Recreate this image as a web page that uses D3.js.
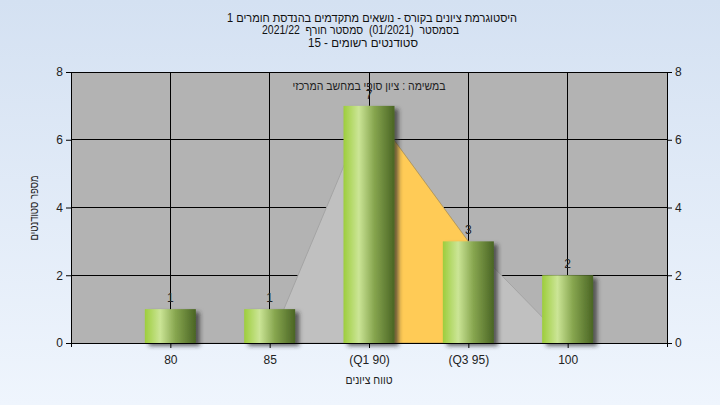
<!DOCTYPE html>
<html>
<head>
<meta charset="utf-8">
<script src="https://cdn.jsdelivr.net/npm/d3@7"></script>
<style>
  html, body { margin: 0; padding: 0; }
  body { width: 720px; height: 405px; overflow: hidden; }
  text { font-family: "Liberation Sans", Arial, sans-serif; }
</style>
</head>
<body>
<svg id="chart" width="720" height="405"></svg>
<script>
// ---- data ----
const categories = [80, 85, 90, 95, 100];
const tickLabels = ["80", "85", "(Q1 90)", "(Q3 95)", "100"];
const counts = [1, 1, 7, 3, 2];
const curveValues = [0, 0, 7, 3, 0];
const q1Index = 2;
const q3Index = 3;
const yTicks = [0, 2, 4, 6, 8];
const titleLines = [
  "היסטוגרמת ציונים בקורס - נושאים מתקדמים בהנדסת חומרים 1",
  "בסמסטר  (01/2021)  סמסטר חורף  2021/22",
  "סטודנטים רשומים - 15"
];
const subtitle = "במשימה : ציון סופי במחשב המרכזי";
const xTitle = "טווח ציונים";
const yTitle = "מספר סטודנטים";

// ---- layout ----
const W = 720, H = 405;
const pL = 71, pR = 667, pT = 72, pB = 343;
const titleLayout = [{cx: 372, by: 21.5, w: 290}, {cx: 360.5, by: 34, w: 197}, {cx: 363, by: 47, w: 110}];
const svg = d3.select("#chart");
const defs = svg.append("defs");

const bg = defs.append("linearGradient").attr("id", "bg").attr("x1", 0).attr("y1", 0).attr("x2", 0).attr("y2", 1);
bg.append("stop").attr("offset", "0%").attr("stop-color", "#d4e1f2");
bg.append("stop").attr("offset", "100%").attr("stop-color", "#eff5fd");

const barG = defs.append("linearGradient").attr("id", "barGrad").attr("x1", 0).attr("y1", 0).attr("x2", 1).attr("y2", 0);
[["0%", "#9dcd3c"], ["30%", "#cbe596"], ["60%", "#87a64f"], ["100%", "#4a6524"]].forEach(([o, c]) =>
  barG.append("stop").attr("offset", o).attr("stop-color", c));

const sh = defs.append("filter").attr("id", "shadow").attr("x", "-20%").attr("y", "-20%").attr("width", "160%").attr("height", "160%");
sh.append("feDropShadow").attr("dx", 4).attr("dy", 3).attr("stdDeviation", 2)
  .attr("flood-color", "#2a2a2a").attr("flood-opacity", 0.7);

svg.append("rect").attr("width", W).attr("height", H).attr("fill", "url(#bg)");

const x = d3.scaleLinear().domain([75, 105]).range([pL, pR]);
const y = d3.scaleLinear().domain([0, 8]).range([pB, pT]);

// plot background
svg.append("rect").attr("x", pL).attr("y", pT).attr("width", pR - pL).attr("height", pB - pT)
  .attr("fill", "#b3b3b3");

// grid lines
svg.append("g").selectAll("line").data(yTicks).join("line")
  .attr("x1", pL).attr("x2", pR).attr("y1", d => y(d)).attr("y2", d => y(d))
  .attr("stroke", "#000").attr("stroke-width", 1).attr("shape-rendering", "crispEdges");
svg.append("g").selectAll("line").data(categories).join("line")
  .attr("x1", d => x(d)).attr("x2", d => x(d)).attr("y1", pT).attr("y2", pB)
  .attr("stroke", "#000").attr("stroke-width", 1).attr("shape-rendering", "crispEdges");

// distribution area
const pts = categories.map((c, i) => [c, curveValues[i]]);
const area = d3.area().x(d => x(d[0])).y0(y(0)).y1(d => y(d[1]));
svg.append("path").datum(pts).attr("d", area)
  .attr("fill", "#c0c0c0").attr("stroke", "#a4a4a4").attr("stroke-width", 1);
svg.append("path").datum(pts.slice(q1Index, q3Index + 1)).attr("d", area)
  .attr("fill", "#ffcb56").attr("stroke", "#b39450").attr("stroke-width", 0.8);

// bars
const bw = 51;
svg.append("g").selectAll("rect").data(categories).join("rect")
  .attr("x", d => x(d) - bw / 2).attr("width", bw)
  .attr("y", (d, i) => y(counts[i])).attr("height", (d, i) => y(0) - y(counts[i]))
  .attr("fill", "url(#barGrad)").attr("filter", "url(#shadow)");

// value labels
svg.append("g").selectAll("text").data(categories).join("text")
  .attr("x", d => x(d)).attr("y", (d, i) => y(counts[i]) - 7)
  .attr("text-anchor", "middle").attr("font-size", 12).attr("fill", "#222")
  .text((d, i) => counts[i]);

// axes
const axisG = svg.append("g");
axisG.append("line").attr("x1", pL).attr("x2", pL).attr("y1", pT).attr("y2", pB + 4).attr("stroke", "#000").attr("shape-rendering", "crispEdges");
axisG.append("line").attr("x1", pR).attr("x2", pR).attr("y1", pT).attr("y2", pB + 4).attr("stroke", "#000").attr("shape-rendering", "crispEdges");
axisG.append("line").attr("x1", pL).attr("x2", pR).attr("y1", pB).attr("y2", pB).attr("stroke", "#000").attr("shape-rendering", "crispEdges");

const yl = svg.append("g").attr("transform", `translate(${pL},0)`)
  .call(d3.axisLeft(y).tickValues(yTicks).tickSize(5).tickFormat(d3.format("d")));
const yr = svg.append("g").attr("transform", `translate(${pR},0)`)
  .call(d3.axisRight(y).tickValues(yTicks).tickSize(5).tickFormat(d3.format("d")));
const xb = svg.append("g").attr("transform", `translate(0,${pB})`)
  .call(d3.axisBottom(x).tickValues(categories).tickSize(5).tickFormat((d, i) => tickLabels[i]));
[yl, yr, xb].forEach(g => {
  g.select(".domain").remove();
  g.selectAll("line").attr("stroke", "#000");
  g.selectAll("text").attr("font-size", 12).attr("fill", "#222")
    .attr("font-family", "'Liberation Sans', Arial, sans-serif");
});
yl.selectAll("text").attr("x", -8);
yr.selectAll("text").attr("x", 8);
xb.selectAll("text").attr("y", 12);

// titles
svg.append("g").selectAll("text").data(titleLines).join("text")
  .attr("x", (d, i) => titleLayout[i].cx).attr("y", (d, i) => titleLayout[i].by)
  .attr("text-anchor", "middle").attr("direction", "rtl").attr("font-size", 12).attr("fill", "#111")
  .style("white-space", "pre")
  .attr("textLength", (d, i) => titleLayout[i].w).attr("lengthAdjust", "spacingAndGlyphs")
  .text(d => d);

svg.append("text").attr("x", 369).attr("y", 90).attr("text-anchor", "middle").attr("direction", "rtl")
  .attr("font-size", 12).attr("fill", "#222")
  .attr("textLength", 153).attr("lengthAdjust", "spacingAndGlyphs").text(subtitle);

svg.append("text").attr("x", 369).attr("y", 384).attr("text-anchor", "middle").attr("direction", "rtl")
  .attr("font-size", 12).attr("fill", "#222")
  .attr("textLength", 47).attr("lengthAdjust", "spacingAndGlyphs").text(xTitle);

svg.append("text").attr("transform", "translate(38,208) rotate(-90)").attr("text-anchor", "middle")
  .attr("direction", "rtl").attr("font-size", 12).attr("fill", "#222")
  .attr("textLength", 65).attr("lengthAdjust", "spacingAndGlyphs").text(yTitle);
</script>
</body>
</html>
